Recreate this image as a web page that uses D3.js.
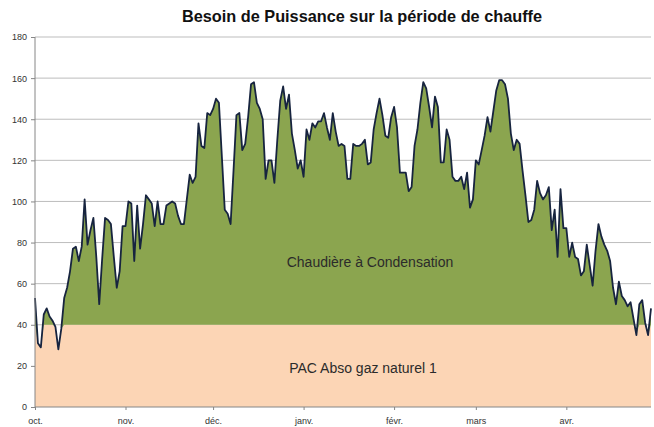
<!DOCTYPE html>
<html>
<head>
<meta charset="utf-8">
<script src="https://cdn.jsdelivr.net/npm/d3@7"></script>
<style>
  body { margin: 0; background: #fff; }
  svg { display: block; font-family: "Liberation Sans", Arial, sans-serif; }
  .axis text { fill: #333; font-size: 9px; }
  .label { fill: #2b2b2b; font-size: 14px; }
</style>
</head>
<body>
<div id="chart"></div>
<script>
// besoin journalier du 1er oct. au 30 avr. (kW)
var startDate = "2009-10-01";
var besoin = [
  53, 31, 29, 45, 48, 44, 42, 39, 28, 38, 53, 58, 66, 77, 78, 71, 78, 101, 79, 86,
  92, 73, 50, 72, 92, 91, 89, 73, 58, 66, 88, 88, 100, 99, 71, 98, 77, 89, 103, 101,
  99, 88, 100, 89, 89, 98, 99, 100, 99, 93, 89, 89, 101, 113, 109, 112, 138, 127, 126, 143,
  142, 145, 150, 148, 122, 96, 94, 89, 115, 142, 143, 125, 128, 141, 157, 158, 148, 145, 140, 111,
  120, 120, 109, 130, 149, 156, 145, 152, 133, 125, 116, 120, 112, 135, 130, 138, 136, 139, 139, 143,
  136, 130, 143, 134, 127, 128, 127, 111, 111, 128, 127, 127, 128, 130, 118, 119, 135, 143, 150, 142,
  132, 131, 141, 146, 136, 114, 114, 114, 105, 107, 127, 135, 148, 158, 155, 146, 136, 151, 146, 119,
  119, 135, 130, 112, 110, 110, 112, 106, 114, 97, 101, 120, 118, 125, 132, 141, 134, 144, 154, 159,
  159, 157, 150, 133, 125, 130, 128, 115, 103, 90, 91, 96, 110, 104, 101, 103, 107, 86, 96, 73,
  106, 87, 87, 73, 80, 73, 72, 64, 66, 79, 69, 59, 76, 89, 83, 79, 76, 71, 58, 50,
  61, 54, 52, 49, 51, 43, 35, 50, 52, 41, 35, 48
];
var pacMax = 40;   // puissance couverte par la PAC
var monthLabels = ["oct.", "nov.", "déc.", "janv.", "févr.", "mars", "avr."];
var yTicks = [0, 20, 40, 60, 80, 100, 120, 140, 160, 180];
var title = "Besoin de Puissance sur la période de chauffe";
var seriesNames = ["Chaudière à Condensation", "PAC Abso gaz naturel 1"];

var W = 654, H = 427,
    margin = {left: 35, right: 3, top: 37, bottom: 20},
    width = W - margin.left - margin.right,
    height = H - margin.top - margin.bottom;

var parse = d3.timeParse("%Y-%m-%d");
var t0 = parse(startDate);
var data = besoin.map(function (v, i) {
  return {date: d3.timeDay.offset(t0, i), value: v};
});

var x = d3.scaleTime()
    .domain(d3.extent(data, function (d) { return d.date; }))
    .range([0, width]);
var y = d3.scaleLinear().domain([0, 180]).range([height, 0]);

var svg = d3.select("#chart").append("svg")
    .attr("width", W)
    .attr("height", H);

svg.append("text")
    .attr("x", 362)
    .attr("y", 22)
    .attr("text-anchor", "middle")
    .style("font-size", "16.3px")
    .style("font-weight", "bold")
    .style("fill", "#111")
    .text(title);

var g = svg.append("g")
    .attr("transform", "translate(" + margin.left + "," + margin.top + ")");

// grid
g.selectAll(".grid")
    .data(yTicks.filter(function (d) { return d > 0; }))
  .enter().append("line")
    .attr("class", "grid")
    .attr("x1", 0).attr("x2", width)
    .attr("y1", function (d) { return y(d); })
    .attr("y2", function (d) { return y(d); })
    .style("stroke", "#bdbdbd")
    .style("stroke-width", 1);

var areaPac = d3.area()
    .x(function (d) { return x(d.date); })
    .y0(y(0))
    .y1(function (d) { return y(Math.min(d.value, pacMax)); });

var areaChaud = d3.area()
    .x(function (d) { return x(d.date); })
    .y0(function (d) { return y(Math.min(d.value, pacMax)); })
    .y1(function (d) { return y(d.value); });

g.append("path").datum(data)
    .attr("d", areaPac)
    .style("fill", "#fcd5b5");

g.append("path").datum(data)
    .attr("d", areaChaud)
    .style("fill", "#8ba54f");

g.append("path").datum(data)
    .attr("d", d3.line()
      .x(function (d) { return x(d.date); })
      .y(function (d) { return y(d.value); }))
    .style("fill", "none")
    .style("stroke", "#17243f")
    .style("stroke-width", 1.8)
    .style("stroke-linejoin", "round");

// axes
var months = d3.timeMonth.range(t0, x.domain()[1]);
var xAxis = d3.axisBottom(x)
    .tickValues(months)
    .tickSize(3)
    .tickPadding(8)
    .tickFormat(function (d, i) { return monthLabels[i]; });

var yAxis = d3.axisLeft(y)
    .tickValues(yTicks)
    .tickSize(4)
    .tickPadding(4);

g.append("g")
    .attr("class", "x axis")
    .attr("transform", "translate(0," + height + ")")
    .call(xAxis);

g.append("g")
    .attr("class", "y axis")
    .call(yAxis);

g.selectAll(".axis .domain").style("stroke", "#868686");
g.selectAll(".axis .tick line").style("stroke", "#868686");
g.select(".y.axis .domain").attr("d", "M0," + height + "V0");
g.select(".x.axis .domain").attr("d", "M0,0H" + width);

g.append("text")
    .attr("class", "label")
    .attr("x", 370 - margin.left)
    .attr("y", 267 - margin.top)
    .attr("text-anchor", "middle")
    .text(seriesNames[0]);

g.append("text")
    .attr("class", "label")
    .attr("x", 363 - margin.left)
    .attr("y", 373 - margin.top)
    .attr("text-anchor", "middle")
    .text(seriesNames[1]);
</script>
</body>
</html>
